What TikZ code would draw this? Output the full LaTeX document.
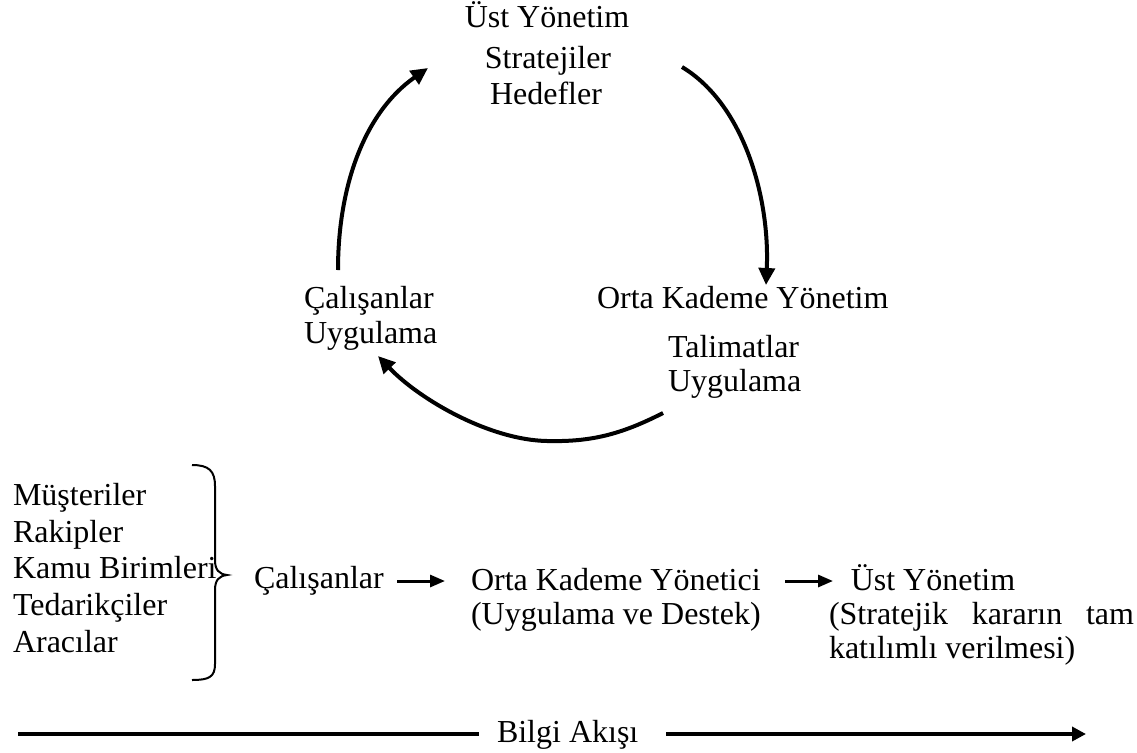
\documentclass[tikz,border=0pt]{standalone}
\usepackage{fontspec}
\setmainfont{Liberation Serif}
\usetikzlibrary{arrows.meta}
\begin{document}
\begin{tikzpicture}[x=1pt,y=-1pt,
  txt/.style={inner sep=0pt,outer sep=0pt,font=\fontsize{32}{36}\selectfont},
  arcarrow/.style={line width=4pt,-{Triangle[length=17pt,width=16pt]}},
  rowarrow/.style={line width=3pt,-{Triangle[length=15pt,width=12pt]}},
  flowline/.style={line width=4.5pt},
  flowarrow/.style={line width=4.5pt,-{Triangle[length=14pt,width=14pt]}},
  bracestyle/.style={line width=2pt}]
\useasboundingbox (0,0) rectangle (1137,752);
% cycle texts
\node[txt,anchor=base] (ust1) at (547,28) {Üst Yönetim};
\node[txt,anchor=base] (str) at (548,68) {Stratejiler};
\node[txt,anchor=base] (hed) at (546,104) {Hedefler};
\node[txt,anchor=base west] (cal1) at (304,308) {Çalışanlar};
\node[txt,anchor=base west] (uyg1) at (304,343) {Uygulama};
\node[txt,anchor=base west] (okyt) at (597,308) {Orta Kademe Yönetim};
\node[txt,anchor=base west] (tal) at (668,357) {Talimatlar};
\node[txt,anchor=base west] (uyg2) at (668,391) {Uygulama};
% cycle arcs
\coordinate (a1s) at (338,270);
\coordinate (a1e) at (428,68);
\coordinate (a2s) at (682,67);
\coordinate (a2e) at (766,285);
\coordinate (a3s) at (663,413);
\coordinate (a3m) at (547,441);
\coordinate (a3e) at (378,356);
\draw[arcarrow] (a1s) .. controls (338,185) and (365,112) .. (a1e);
\draw[arcarrow] (a2s) .. controls (745,105) and (770,200) .. (a2e);
\draw[arcarrow] (a3s) .. controls (620,435) and (590,442) .. (a3m)
  .. controls (490,440) and (420,400) .. (a3e);
% left list
\node[txt,anchor=base west] (mus) at (13,505) {Müşteriler};
\node[txt,anchor=base west] (rak) at (13,542) {Rakipler};
\node[txt,anchor=base west] (kam) at (13,578) {Kamu Birimleri};
\node[txt,anchor=base west] (ted) at (13,615) {Tedarikçiler};
\node[txt,anchor=base west] (ara) at (13,652) {Aracılar};
\draw[bracestyle] (192,465) .. controls (209,465) and (215,471) .. (215,486) -- (215,560)
  .. controls (215,570) and (219,574) .. (227,575)
  .. controls (219,576) and (215,580) .. (215,590) -- (215,664)
  .. controls (215,677) and (209,680) .. (192,680);
% bottom row
\node[txt,anchor=base west] (cal2) at (254,588) {Çalışanlar};
\node[txt,anchor=base west] (oky) at (471,590) {Orta Kademe Yönetici};
\node[txt,anchor=base west] (uyd) at (471,624) {(Uygulama ve Destek)};
\node[txt,anchor=base] (ust2) at (933,590) {Üst Yönetim};
\node[txt,anchor=base west] (skar) at (829,624) {\makebox[305pt][s]{(Stratejik kararın tam}};
\node[txt,anchor=base west] (kat) at (829,658) {katılımlı verilmesi)};
\coordinate (r1s) at (397,581);
\coordinate (r1e) at (445,581);
\coordinate (r2s) at (785,581);
\coordinate (r2e) at (833,581);
\draw[rowarrow] (r1s) -- (r1e);
\draw[rowarrow] (r2s) -- (r2e);
% info flow
\node[txt,anchor=base west] (bilgi) at (497,742) {Bilgi Akışı};
\coordinate (f1s) at (18,734);
\coordinate (f1e) at (479,734);
\coordinate (f2s) at (666,734);
\coordinate (f2e) at (1086,734);
\draw[flowline] (f1s) -- (f1e);
\draw[flowarrow] (f2s) -- (f2e);
\end{tikzpicture}
\end{document}
